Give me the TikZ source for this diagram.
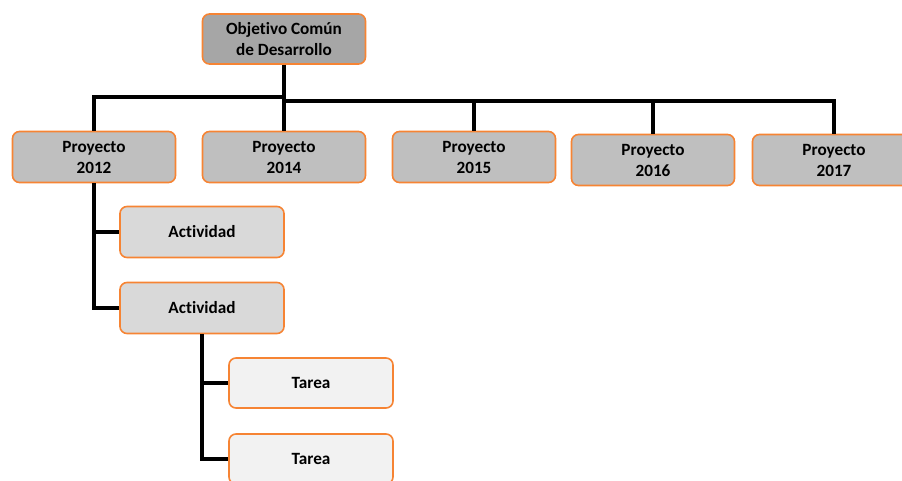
\documentclass[tikz,border=0pt]{standalone}
\usepackage{fontspec}
\setmainfont{Carlito}[Ligatures=NoCommon]
\usepackage{tikz}
\definecolor{boxline}{RGB}{246,132,52}
\definecolor{grayA}{RGB}{166,166,166}
\definecolor{grayB}{RGB}{191,191,191}
\definecolor{grayC}{RGB}{217,217,217}
\definecolor{grayD}{RGB}{242,242,242}
\begin{document}
\begin{tikzpicture}
[ x=1pt, y=-1pt
, box/.style={rectangle, rounded corners=7pt, draw=boxline, line width=1.6pt, minimum width=163pt, minimum height=50pt, align=center, font=\fontsize{17.2}{21}\selectfont\bfseries}
, goal/.style={box, fill=grayA}
, project/.style={box, fill=grayB, minimum height=51pt}
, activity/.style={box, fill=grayC, minimum width=164pt, minimum height=51pt}
, task/.style={box, fill=grayD, minimum width=164pt}
, link/.style={line width=3.6pt, black}
]
\useasboundingbox (0,0) rectangle (902,481);
% Goal:
\node (goal) [goal] at (284,39) {Objetivo Común\\de Desarrollo};
% Projects:
\node (p2012) [project] at (94,157) {Proyecto\\2012};
\node (p2014) [project] at (284,157) {Proyecto\\2014};
\node (p2015) [project] at (474,157) {Proyecto\\2015};
\node (p2016) [project] at (653,160) {Proyecto\\2016};
\node (p2017) [project] at (834,160) {Proyecto\\2017};
% Activities and tasks:
\node (act1) [activity] at (202,232) {Actividad};
\node (act2) [activity] at (202,308) {Actividad};
\node (task1) [task] at (311,383) {Tarea};
\node (task2) [task] at (311,459) {Tarea};
% Bus points:
\coordinate (busL) at (284,97);
\coordinate (busR) at (284,101);
\draw [link] (goal) -- (p2014);
\draw [link] (p2012) |- (busL);
\draw [link] (busR) -| (p2017);
\draw [link] (busR -| p2015) -- (p2015);
\draw [link] (busR -| p2016) -- (p2016);
\draw [link] (p2012.south) |- (act1.west);
\draw [link] (p2012.south) |- (act2.west);
\draw [link] (act2.south) |- (task1.west);
\draw [link] (act2.south) |- (task2.west);
\end{tikzpicture}
\end{document}
